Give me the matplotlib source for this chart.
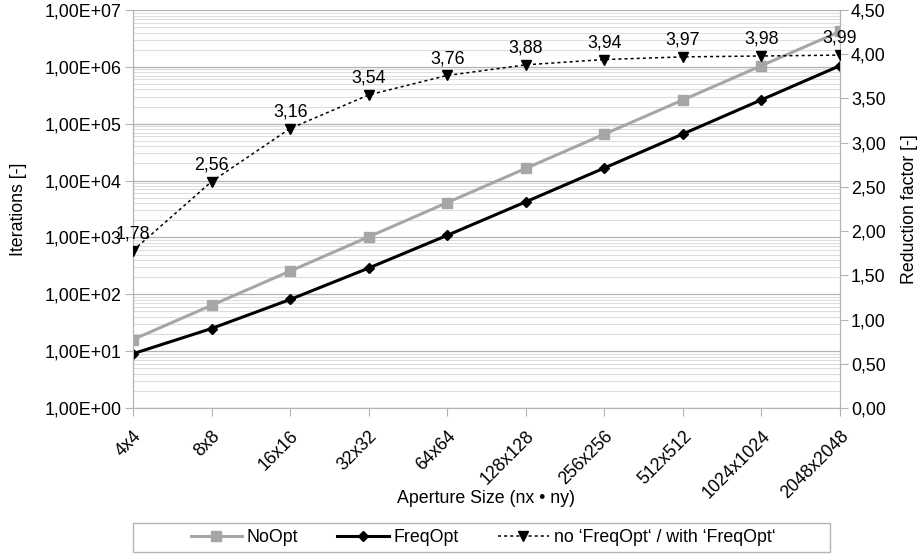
import math
import matplotlib
matplotlib.use("Agg")
import matplotlib.pyplot as plt
from matplotlib.ticker import FixedLocator, FuncFormatter, LogLocator, NullFormatter
from matplotlib.lines import Line2D
from matplotlib.patches import Rectangle

plt.rcParams['font.family'] = ['Liberation Sans', 'DejaVu Sans']
FS = 12.8

categories = ["4x4", "8x8", "16x16", "32x32", "64x64", "128x128", "256x256",
              "512x512", "1024x1024", "2048x2048"]
no_opt = [16, 64, 256, 1024, 4096, 16384, 65536, 262144, 1048576, 4194304]
freq_opt = [9, 25, 81, 289, 1089, 4225, 16641, 66049, 263169, 1050625]
reduction = [1.78, 2.56, 3.16, 3.54, 3.76, 3.88, 3.94, 3.97, 3.98, 3.99]
reduction_labels = ["1,78", "2,56", "3,16", "3,54", "3,76", "3,88", "3,94", "3,97", "3,98", "3,99"]

fig = plt.figure(figsize=(9.2, 5.56), dpi=100)
ax = fig.add_axes([133/920, 1-408/556, (840-133)/920, (408-10)/556])
x = list(range(len(categories)))

ax.set_yscale('log')
ax.set_ylim(1, 1e7)
ax.set_xlim(0, len(categories)-1)
ax.yaxis.set_major_locator(LogLocator(base=10, numticks=20))
ax.yaxis.set_minor_locator(LogLocator(base=10, subs=range(2, 10), numticks=100))
ax.yaxis.set_minor_formatter(NullFormatter())
ax.yaxis.set_major_formatter(FuncFormatter(lambda v, p: "1,00E+%02d" % round(math.log10(v))))
ax.grid(True, which='major', axis='y', color='#b3b3b3', lw=0.9)
ax.grid(True, which='minor', axis='y', color='#dddddd', lw=0.8)
ax.set_axisbelow(True)

ax.plot(x, no_opt, color='#a6a6a6', lw=2.2, marker='s', ms=7.5, zorder=3)
ax.plot(x, freq_opt, color='black', lw=2.2, marker='D', ms=5.5, zorder=4)

ax.set_xticks(x)
ax.set_xticklabels(categories, rotation=45, ha='right', rotation_mode='anchor', fontsize=FS)
ax.tick_params(axis='x', length=6, color='#b3b3b3', pad=8)
ax.tick_params(axis='y', which='major', length=6, color='#b3b3b3', labelsize=FS, pad=2)
ax.tick_params(axis='y', which='minor', length=0)
for s in ax.spines.values():
    s.set_color('#b3b3b3')
ax.spines['top'].set_visible(False)

ax.set_ylabel("Iterations [-]", fontsize=FS)
ax.yaxis.set_label_coords((27-133)/707, 0.5)
ax.set_xlabel("Aperture Size (nx \u2022 ny)", fontsize=FS)
ax.xaxis.set_label_coords(0.5, (408-490)/398)

ax2 = ax.twinx()
ax2.set_ylim(0, 4.5)
ax2.yaxis.set_major_locator(FixedLocator([i*0.5 for i in range(10)]))
ax2.yaxis.set_major_formatter(FuncFormatter(lambda v, p: ("%.2f" % v).replace('.', ',')))
ax2.tick_params(axis='y', length=6, color='#b3b3b3', labelsize=FS, pad=2)
for s in ax2.spines.values():
    s.set_color('#b3b3b3')
ax2.spines['top'].set_visible(False)
ax2.plot(x, reduction, color='black', lw=1.1, ls=(0, (2, 2)), marker='v', ms=7.5, zorder=5)
for xi, yi, t in zip(x, reduction, reduction_labels):
    ax2.annotate(t, (xi, yi), xytext=(0, 6), textcoords='offset points',
                 ha='center', va='bottom', fontsize=FS)
ax2.set_ylabel("Reduction factor [-]", fontsize=FS)
ax2.yaxis.set_label_coords((901-133)/707, 0.5)

# legend box
fig.patches.append(Rectangle((133/920, 1-552/556), (830-133)/920, 29/556,
                             transform=fig.transFigure, fill=False,
                             edgecolor='#b3b3b3', lw=1))
handles = [
    Line2D([], [], color='#a6a6a6', lw=2.2, marker='s', ms=7.5),
    Line2D([], [], color='black', lw=2.2, marker='D', ms=5.5),
    Line2D([], [], color='black', lw=1.1, ls=(0, (2, 2)), marker='v', ms=7.5),
]
labels = ["NoOpt", "FreqOpt", "no \u2018FreqOpt\u2018 / with \u2018FreqOpt\u2018"]
leg = fig.legend(handles, labels, loc='center', ncol=3,
                 bbox_to_anchor=(483/920, 1-537.5/556), fontsize=FS,
                 frameon=False, handlelength=2.9, handletextpad=0.25,
                 columnspacing=2.2)

fig.savefig("out.png", dpi=100)
